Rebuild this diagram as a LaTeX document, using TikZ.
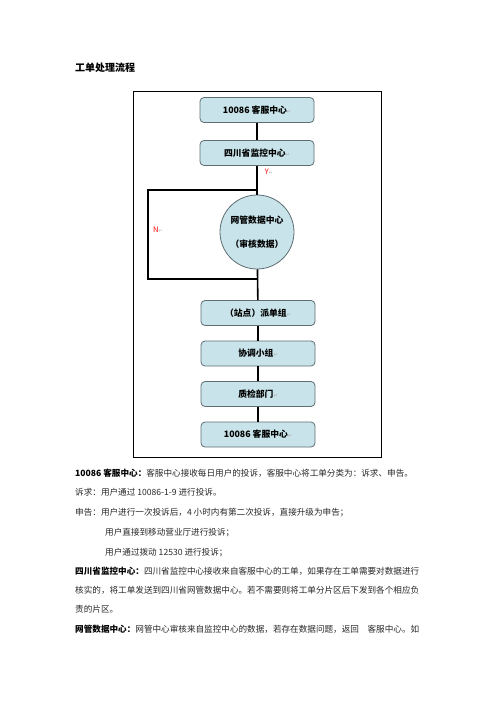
\documentclass[tikz,border=0pt]{standalone}
\usepackage{fontspec}
\setmainfont{Noto Sans CJK SC}
\newfontfamily\symfont{DejaVu Sans}
\newcommand{\retmk}{{\symfont\color{gray!60}\fontsize{5pt}{5pt}\selectfont ↵}}
\definecolor{boxfill}{RGB}{200,228,234}
\definecolor{boxline}{RGB}{95,110,115}
\definecolor{bodytxt}{RGB}{40,40,40}
\begin{document}
\begin{tikzpicture}[x=1pt,y=-1pt,
  flowbox/.style={draw=boxline,line width=0.8pt,fill=boxfill,rounded corners=4pt,
    minimum width=114pt,minimum height=25pt,inner sep=0pt,
    font=\fontsize{8.8pt}{10pt}\selectfont\bfseries},
  flowcirc/.style={draw=boxline,line width=0.8pt,fill=boxfill,circle,minimum size=74pt,inner sep=0pt,
    align=center,font=\fontsize{8.8pt}{24pt}\selectfont\bfseries},
  conn/.style={line width=1.6pt,black},
  yn/.style={text=red,font=\fontsize{7.5pt}{8pt}\selectfont,inner sep=0pt},
  body/.style={anchor=base west,inner sep=0pt,text=bodytxt,font=\fontsize{8.6pt}{10pt}\selectfont},
  lead/.style={font=\fontsize{8.6pt}{10pt}\selectfont\bfseries,text=black}
]
\useasboundingbox (0,0) rectangle (496,702);
\fill[white] (0,0) rectangle (496,702);

\node[anchor=base west,inner sep=0pt,font=\fontsize{10pt}{12pt}\selectfont\bfseries] (title) at (75,71) {工单处理流程};

\draw[line width=1pt] (133,91) rectangle (381,457);

\node[flowbox] (b1) at (257,110) {10086 客服中心\retmk};
\node[flowbox] (b2) at (257,153) {四川省监控中心\retmk};
\node[flowcirc] (c) at (257,232) {网管数据中心\\（审核数据）};
\node[flowbox] (b3) at (258,313) {（站点）派单组\retmk};
\node[flowbox] (b4) at (258,353.5) {协调小组\retmk};
\node[flowbox] (b5) at (258,394) {质检部门\retmk};
\node[flowbox] (b6) at (258,434.5) {10086 客服中心\retmk};

\coordinate (j1) at (257,190);
\coordinate (l1) at (148,190);
\coordinate (l2) at (148,279);
\coordinate (j2) at (257,279);

\draw[conn] (b1) -- (b2);
\draw[conn] (b2) -- (c);
\draw[conn] (c) -- (b3);
\draw[conn] (j1) -- (l1) -- (l2) -- (j2);
\draw[conn] (b3) -- (b4);
\draw[conn] (b4) -- (b5);
\draw[conn] (b5) -- (b6);

\node[yn] (y) at (269,172) {Y\retmk};
\node[yn] (n) at (158,230) {N\retmk};

\node[body] (t1) at (75,476) {{\bfseries\color{black}10086 客服中心：}客服中心接收每日用户的投诉，客服中心将工单分类为：诉求、申告。};
\node[body] (t2) at (75,495.5) {诉求：用户通过 10086-1-9 进行投诉。};
\node[body] (t3) at (75,515) {申告：用户进行一次投诉后，4 小时内有第二次投诉，直接升级为申告；};
\node[body] (t4) at (105,535.5) {用户直接到移动营业厅进行投诉；};
\node[body] (t5) at (105,555) {用户通过拨动 12530 进行投诉；};
\node[body] (t6) at (75,574) {{\bfseries\color{black}四川省监控中心：}四川省监控中心接收来自客服中心的工单，如果存在工单需要对数据进行};
\node[body] (t7) at (75,593) {核实的，将工单发送到四川省网管数据中心。若不需要则将工单分片区后下发到各个相应负};
\node[body] (t8) at (75,612.5) {责的片区。};
\node[body] (t9) at (75,632) {{\bfseries\color{black}网管数据中心：}网管中心审核来自监控中心的数据，若存在数据问题，返回　客服中心。如};
\end{tikzpicture}
\end{document}
